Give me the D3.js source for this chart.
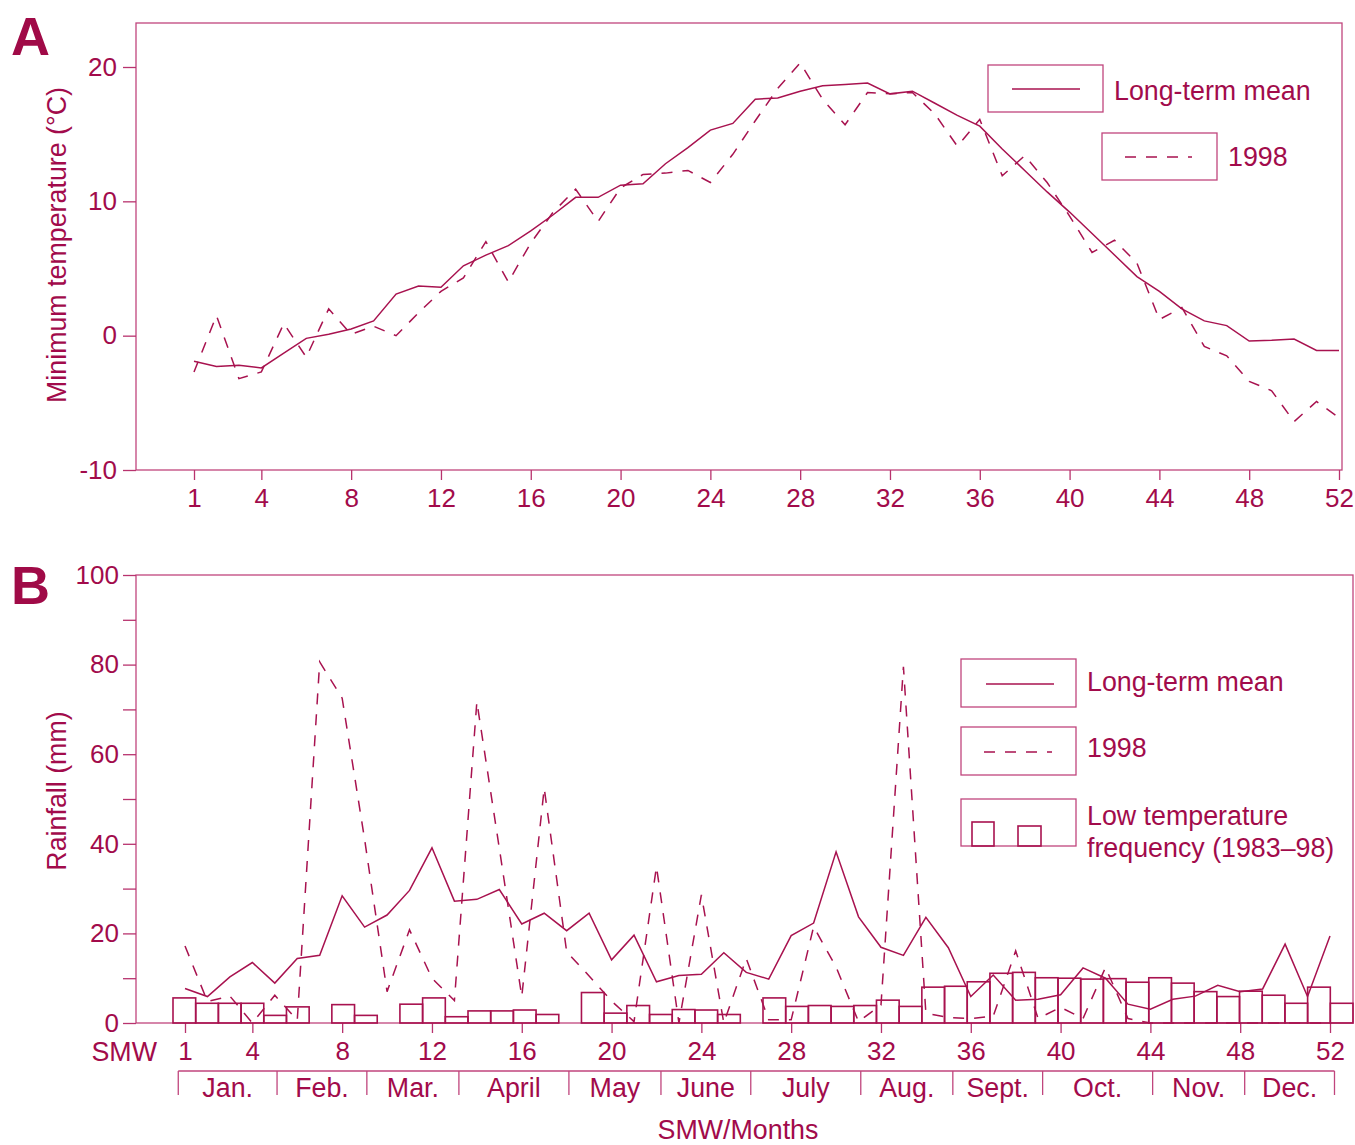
<!DOCTYPE html>
<html lang="en">
<head>
<meta charset="UTF-8">
<title>Minimum temperature and rainfall by SMW</title>
<script src="https://d3js.org/d3.v7.min.js"></script>
<style>
  body { margin: 0; background: #fff; }
  svg { display: block; font-family: "Liberation Sans", Arial, sans-serif; }
  .ink { fill: #a20b4b; font-size: 26.8px; }
  .frame { fill: none; stroke: #c0457d; stroke-width: 1.3; }
  .mean { fill: none; stroke: #a8124f; stroke-width: 1.5; }
  .y1998 { fill: none; stroke: #a8124f; stroke-width: 1.5; stroke-dasharray: 11 10; }
  .bar { fill: none; stroke: #a8124f; stroke-width: 1.6; }
  .panel { fill: #a00a47; font-size: 54px; font-weight: bold; }
  .axis text { font-size: 26px; fill: #a20b4b; font-family: "Liberation Sans", Arial, sans-serif; }
  .axis line { stroke: #b8336e; stroke-width: 1.3; }
  .axis path { display: none; }
</style>
</head>
<body>
<svg width="1355" height="1145"></svg>
<script>
const weeks = d3.range(1, 53);

// panel A, minimum temperature (°C)
const tempMean = [-1.9, -2.3, -2.2, -2.4, -1.3, -0.2, 0.1, 0.5, 1.1, 3.1,
  3.7, 3.6, 5.2, 6.0, 6.7, 7.8, 9.0, 10.3, 10.3, 11.2,
  11.3, 12.8, 14.0, 15.3, 15.8, 17.6, 17.7, 18.2, 18.6, 18.7,
  18.8, 18.0, 18.2, 17.3, 16.4, 15.6, 13.9, 12.3, 10.7, 9.2,
  7.6, 6.0, 4.4, 3.3, 2.0, 1.1, 0.75, -0.4, -0.35, -0.25,
  -1.1, -1.1];
const temp1998 = [-2.7, 1.5, -3.2, -2.7, 0.9, -1.6, 2.0, 0.1, 0.7, 0.0,
  1.7, 3.3, 4.3, 7.0, 4.0, 6.9, 9.2, 10.9, 8.5, 11.0,
  12.0, 12.1, 12.3, 11.4, 13.5, 16.0, 18.4, 20.3, 17.6, 15.7,
  18.1, 18.0, 18.1, 16.5, 14.1, 16.1, 11.9, 13.4, 11.4, 8.9,
  6.2, 7.1, 5.4, 1.2, 2.1, -0.8, -1.5, -3.4, -4.1, -6.4,
  -4.9, -6.1];

// panel B, rainfall (mm) and low temperature frequency
const rainMean = [7.7, 5.9, 10.3, 13.5, 8.9, 14.4, 15.1, 28.4, 21.4, 24.1,
  29.6, 39.1, 27.2, 27.6, 29.8, 22.1, 24.5, 20.6, 24.5, 14.1,
  19.6, 9.2, 10.6, 10.9, 15.7, 11.3, 9.8, 19.5, 22.3, 38.2,
  23.7, 16.9, 15.1, 23.6, 16.8, 5.9, 10.7, 5.1, 5.3, 6.3,
  12.3, 10.0, 4.2, 3.1, 5.3, 6.0, 8.4, 7.0, 7.6, 17.6,
  5.9, 19.4];
const rain1998 = [17.2, 4.8, 6.0, 0, 6.2, 0.6, 80.6, 72.5, 41, 7.0,
  20.8, 10.0, 5.0, 71.7, 39, 5.9, 52.4, 15.9, 10.5, 4.9,
  0.3, 34.9, 0, 28.6, 0, 14.4, 0.7, 0.7, 21.5, 12.5,
  0.3, 4.0, 79.5, 2.2, 1.2, 1.0, 1.5, 16.1, 1.0, 3.5,
  1.0, 12.4, 1.0, 0, 0, 0, 0, 0, 0, 0,
  0, 0];
const lowTempFreq = [5.6, 4.4, 4.4, 4.4, 1.7, 3.6, 0, 4.1, 1.7, 0,
  4.2, 5.6, 1.4, 2.7, 2.7, 2.9, 1.9, 0, 6.8, 2.2,
  3.9, 1.9, 3.0, 2.9, 1.9, 0, 5.6, 3.7, 3.9, 3.7,
  3.9, 5.1, 3.7, 8.0, 8.2, 9.2, 11.1, 11.3, 10.1, 10.0,
  9.8, 9.9, 9.1, 10.1, 8.9, 7.0, 5.9, 7.1, 6.2, 4.4,
  8.0, 4.4];

const weekTicks = [1, 4, 8, 12, 16, 20, 24, 28, 32, 36, 40, 44, 48, 52];
const tempTicks = [-10, 0, 10, 20];
const rainTicks = d3.range(0, 101, 10);
const months = ["Jan.", "Feb.", "Mar.", "April", "May", "June", "July", "Aug.", "Sept.", "Oct.", "Nov.", "Dec."];
// month boundaries in SMW units
const monthEdges = [0.7, 5.1, 9.1, 13.2, 18.1, 22.2, 26.2, 31.1, 35.2, 39.2, 44.1, 48.2, 52.2];
const seriesLabels = ["Long-term mean", "1998"];
const barLabel = ["Low temperature", "frequency (1983\u201398)"];

const svg = d3.select("svg");

// ---------- A ----------
const xA = d3.scaleLinear().domain([1, 52]).range([194, 1339]);
const yA = d3.scaleLinear().domain([-10, 20]).range([470, 67]);

svg.append("rect").attr("class", "frame")
  .attr("x", 136).attr("y", 23).attr("width", 1206).attr("height", 447);

svg.append("g").attr("class", "axis")
  .attr("transform", "translate(0,470)")
  .call(d3.axisBottom(xA).tickValues(weekTicks).tickSize(10).tickPadding(9));

// plain hyphen for negatives, as in the original
svg.append("g").attr("class", "axis")
  .attr("transform", "translate(136,0)")
  .call(d3.axisLeft(yA).tickValues(tempTicks).tickSize(13).tickPadding(6)
    .tickFormat(d => String(d)));

const lineA = d3.line().x((d, i) => xA(weeks[i])).y(d => yA(d));
svg.append("path").attr("class", "mean").attr("d", lineA(tempMean));
svg.append("path").attr("class", "y1998").attr("d", lineA(temp1998));

svg.append("text").attr("class", "panel").attr("x", 11).attr("y", 55).text("A");
svg.append("text").attr("class", "ink")
  .attr("transform", "translate(66,245) rotate(-90)")
  .attr("text-anchor", "middle")
  .text("Minimum temperature (\u00b0C)");

// legend A
const legA = svg.append("g");
legA.append("rect").attr("class", "frame").attr("x", 988).attr("y", 65).attr("width", 115).attr("height", 47);
legA.append("line").attr("class", "mean").attr("x1", 1012).attr("x2", 1080).attr("y1", 89).attr("y2", 89);
legA.append("text").attr("class", "ink").attr("x", 1114).attr("y", 100).text(seriesLabels[0]);
legA.append("rect").attr("class", "frame").attr("x", 1102).attr("y", 133).attr("width", 115).attr("height", 47);
legA.append("line").attr("class", "y1998").attr("x1", 1125).attr("x2", 1192).attr("y1", 157).attr("y2", 157);
legA.append("text").attr("class", "ink").attr("x", 1228).attr("y", 166).text(seriesLabels[1]);

// ---------- B ----------
const xB = d3.scaleLinear().domain([1, 52]).range([185, 1330]);
const yB = d3.scaleLinear().domain([0, 100]).range([1023, 575]);
const barX = d3.scaleBand().domain(weeks).range([173, 1353]);

svg.append("rect").attr("class", "frame")
  .attr("x", 136).attr("y", 575).attr("width", 1217).attr("height", 448);

svg.append("g").attr("class", "axis")
  .attr("transform", "translate(0,1023)")
  .call(d3.axisBottom(xB).tickValues(weekTicks).tickSize(10).tickPadding(9));

svg.append("g").attr("class", "axis")
  .attr("transform", "translate(136,0)")
  .call(d3.axisLeft(yB).tickValues(rainTicks).tickSize(13).tickPadding(4)
    .tickFormat(d => d % 20 === 0 ? d : ""));

svg.append("g").selectAll("rect")
  .data(weeks.map((w, i) => ({ w, v: lowTempFreq[i] })).filter(d => d.v > 0))
  .join("rect")
  .attr("class", "bar")
  .attr("x", d => barX(d.w))
  .attr("width", barX.bandwidth())
  .attr("y", d => yB(d.v))
  .attr("height", d => yB(0) - yB(d.v));

const lineB = d3.line().x((d, i) => xB(weeks[i])).y(d => yB(d));
svg.append("path").attr("class", "mean").attr("d", lineB(rainMean));
svg.append("path").attr("class", "y1998").attr("d", lineB(rain1998));

svg.append("text").attr("class", "panel").attr("x", 11).attr("y", 604).text("B");
svg.append("text").attr("class", "ink")
  .attr("transform", "translate(66,791) rotate(-90)")
  .attr("text-anchor", "middle")
  .text("Rainfall (mm)");

svg.append("text").attr("class", "ink")
  .attr("x", 157).attr("y", 1061).attr("text-anchor", "end").text("SMW");

// month bracket under the week axis
const monthsG = svg.append("g");
monthsG.append("line").attr("class", "frame")
  .attr("x1", xB(monthEdges[0])).attr("x2", xB(monthEdges[monthEdges.length - 1]))
  .attr("y1", 1071).attr("y2", 1071);
monthsG.selectAll(".sep")
  .data(monthEdges)
  .join("line")
  .attr("class", "frame sep")
  .attr("x1", d => xB(d)).attr("x2", d => xB(d))
  .attr("y1", 1071).attr("y2", 1095);
monthsG.selectAll(".mlab")
  .data(months)
  .join("text")
  .attr("class", "ink mlab")
  .attr("text-anchor", "middle")
  .attr("x", (d, i) => (xB(monthEdges[i]) + xB(monthEdges[i + 1])) / 2)
  .attr("y", 1097)
  .text(d => d);

svg.append("text").attr("class", "ink")
  .attr("x", 738).attr("y", 1139).attr("text-anchor", "middle").text("SMW/Months");

// legend B
const legB = svg.append("g");
legB.append("rect").attr("class", "frame").attr("x", 961).attr("y", 659).attr("width", 115).attr("height", 48);
legB.append("line").attr("class", "mean").attr("x1", 986).attr("x2", 1054).attr("y1", 684).attr("y2", 684);
legB.append("text").attr("class", "ink").attr("x", 1087).attr("y", 691).text(seriesLabels[0]);
legB.append("rect").attr("class", "frame").attr("x", 961).attr("y", 727).attr("width", 115).attr("height", 48);
legB.append("line").attr("class", "y1998").attr("x1", 984).attr("x2", 1052).attr("y1", 752).attr("y2", 752);
legB.append("text").attr("class", "ink").attr("x", 1087).attr("y", 757).text(seriesLabels[1]);
legB.append("rect").attr("class", "frame").attr("x", 961).attr("y", 799).attr("width", 115).attr("height", 47);
legB.append("rect").attr("class", "bar").attr("x", 972).attr("y", 822).attr("width", 22).attr("height", 24);
legB.append("rect").attr("class", "bar").attr("x", 1018).attr("y", 826).attr("width", 23).attr("height", 20);
legB.append("text").attr("class", "ink").attr("x", 1087).attr("y", 825).text(barLabel[0]);
legB.append("text").attr("class", "ink").attr("x", 1087).attr("y", 857).text(barLabel[1]);
</script>
</body>
</html>
